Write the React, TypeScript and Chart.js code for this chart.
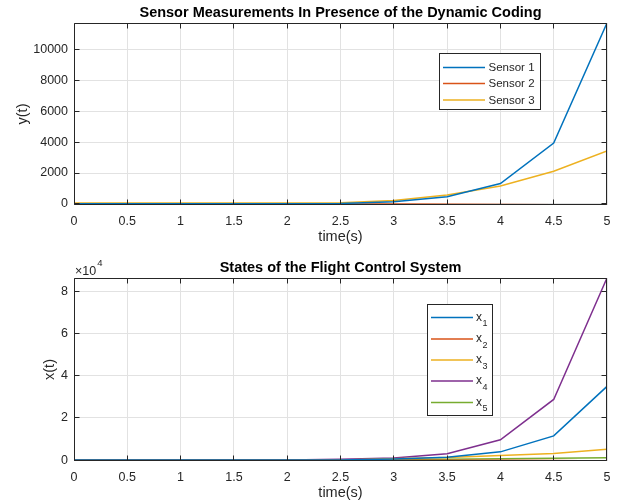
import React, { useEffect, useRef } from 'react';
import { Chart, registerables } from 'chart.js';

Chart.register(...registerables);

// ---------- data ----------
const time = [0, 0.5, 1, 1.5, 2, 2.5, 3, 3.5, 4, 4.5, 5];

const sensorNames = ['Sensor 1', 'Sensor 2', 'Sensor 3'];
const sensor1 = [2, 3, 4, 6, 10, 30, 130, 460, 1320, 3950, 11740];
const sensor2 = [0, 0, -1, -1, -2, -5, -12, -22, -38, -55, -75];
const sensor3 = [60, 55, 52, 52, 55, 75, 220, 580, 1160, 2120, 3430];

const stateNames = ['x_1', 'x_2', 'x_3', 'x_4', 'x_5'];
const x1 = [0, 2, 5, 10, 25, 80, 550, 1350, 3900, 11500, 35000];
const x2 = [0, -1, -2, -4, -8, -15, -40, -80, -150, -250, -450];
const x3 = [10, 12, 15, 20, 30, 80, 600, 1200, 2150, 3100, 5150];
const x4 = [0, 3, 8, 20, 60, 350, 1000, 3000, 9600, 28800, 86500];
const x5 = [5, 5, 6, 8, 12, 30, 200, 400, 600, 800, 1050];

const xTicks = [0, 0.5, 1, 1.5, 2, 2.5, 3, 3.5, 4, 4.5, 5];
const yTicksTop = [0, 2000, 4000, 6000, 8000, 10000];
const yTicksBottom = [0, 20000, 40000, 60000, 80000];
const bottomExponent = 4;

const topTitle = 'Sensor Measurements In Presence of the Dynamic Coding';
const bottomTitle = 'States of the Flight Control System';
const xLabel = 'time(s)';
const topYLabel = 'y(t)';
const bottomYLabel = 'x(t)';

const COLORS = ['#0072BD', '#D95319', '#EDB120', '#7E2F8E', '#77AC30'];
const FONT = '"Liberation Sans", Arial, Helvetica, sans-serif';
const AXIS_COLOR = '#262626';

type LegendSpec = {
  left: number; top: number; right: number; bottom: number;
  lineX0: number; lineX1: number; textX: number; rows: number[];
};

type DecorSpec = {
  title: string;
  yLabel: string;
  yLabelX: number;
  legend: LegendSpec;
  names: string[];
  exponent?: number;
};

function makeDecor(spec: DecorSpec) {
  return {
    id: 'decor',
    afterDatasetsDraw(chart: any) {
      const { ctx, chartArea: a, scales } = chart;
      ctx.save();
      const L = a.left + 0.5, R = a.right - 0.5, T = a.top + 0.5, B = a.bottom - 0.5;
      // box
      ctx.strokeStyle = AXIS_COLOR;
      ctx.lineWidth = 1;
      ctx.beginPath();
      ctx.rect(L, T, R - L, B - T);
      ctx.stroke();
      // inward ticks
      const tl = 5;
      ctx.beginPath();
      for (const t of scales.x.ticks) {
        let px = Math.floor(scales.x.getPixelForValue(t.value)) + 0.5;
        px = Math.min(Math.max(px, L), R);
        ctx.moveTo(px, B); ctx.lineTo(px, B - tl);
        ctx.moveTo(px, T); ctx.lineTo(px, T + tl);
      }
      for (const t of scales.y.ticks) {
        let py = Math.floor(scales.y.getPixelForValue(t.value)) + 0.5;
        py = Math.min(Math.max(py, T), B);
        ctx.moveTo(L, py); ctx.lineTo(L + tl, py);
        ctx.moveTo(R, py); ctx.lineTo(R - tl, py);
      }
      ctx.stroke();

      // title
      const cx = (a.left + a.right) / 2;
      ctx.fillStyle = '#000';
      ctx.font = `bold 14.5px ${FONT}`;
      ctx.textAlign = 'center';
      ctx.textBaseline = 'alphabetic';
      ctx.fillText(spec.title, cx, a.top - 6);

      // x label
      ctx.fillStyle = AXIS_COLOR;
      ctx.font = `14.5px ${FONT}`;
      ctx.fillText(xLabel, cx, a.bottom + 36);

      // y label
      ctx.save();
      ctx.translate(spec.yLabelX, (a.top + a.bottom) / 2);
      ctx.rotate(-Math.PI / 2);
      ctx.textBaseline = 'middle';
      ctx.fillText(spec.yLabel, 0, 0);
      ctx.restore();

      // exponent
      if (spec.exponent !== undefined) {
        ctx.textAlign = 'left';
        ctx.textBaseline = 'alphabetic';
        ctx.font = `12.5px ${FONT}`;
        const base = '\u00d710';
        ctx.fillText(base, a.left + 1, a.top - 3);
        const w = ctx.measureText(base).width;
        ctx.font = `9.5px ${FONT}`;
        ctx.fillText(String(spec.exponent), a.left + 1 + w + 1, a.top - 12);
      }

      // legend
      const lg = spec.legend;
      ctx.fillStyle = '#fff';
      ctx.fillRect(lg.left, lg.top, lg.right - lg.left, lg.bottom - lg.top);
      ctx.strokeStyle = AXIS_COLOR;
      ctx.lineWidth = 1;
      ctx.strokeRect(lg.left + 0.5, lg.top + 0.5, lg.right - lg.left - 1, lg.bottom - lg.top - 1);
      spec.names.forEach((name, i) => {
        const y = lg.rows[i];
        ctx.strokeStyle = COLORS[i];
        ctx.lineWidth = 1.5;
        ctx.beginPath();
        ctx.moveTo(lg.lineX0, y);
        ctx.lineTo(lg.lineX1, y);
        ctx.stroke();
        ctx.fillStyle = AXIS_COLOR;
        ctx.textAlign = 'left';
        const parts = name.split('_');
        if (parts.length === 2) {
          ctx.font = `12px ${FONT}`;
          ctx.textBaseline = 'alphabetic';
          ctx.fillText(parts[0], lg.textX, y + 3);
          const w = ctx.measureText(parts[0]).width;
          ctx.font = `9px ${FONT}`;
          ctx.fillText(parts[1], lg.textX + w + 0.5, y + 8.5);
        } else {
          ctx.font = `11.5px ${FONT}`;
          ctx.textBaseline = 'middle';
          ctx.fillText(name, lg.textX, y + 0.5);
        }
      });
      ctx.restore();
    },
  };
}

function makeConfig(
  series: number[][],
  names: string[],
  yTicks: number[],
  yFmt: (v: number) => string,
  canvasH: number,
  top: number,
  bottom: number,
  decor: any,
) {
  const all = series.flat();
  const yMin = Math.min(...all);
  const yMax = Math.max(...all);
  return {
    type: 'line' as const,
    data: {
      datasets: series.map((s, i) => ({
        label: names[i],
        data: time.map((t, j) => ({ x: t, y: s[j] })),
        borderColor: COLORS[i],
        backgroundColor: COLORS[i],
        borderWidth: 1.5,
        pointRadius: 0,
        tension: 0,
        fill: false,
      })),
    },
    options: {
      responsive: false,
      animation: false as const,
      events: [],
      layout: { padding: { left: 0, right: 16, top, bottom: 0 } },
      plugins: {
        legend: { display: false },
        tooltip: { enabled: false },
        title: { display: false },
      },
      scales: {
        x: {
          type: 'linear' as const,
          min: 0,
          max: 5,
          afterBuildTicks: (s: any) => { s.ticks = xTicks.map((v) => ({ value: v })); },
          afterFit: (s: any) => { s.height = canvasH - bottom; },
          grid: { color: '#e2e2e2', drawTicks: false, lineWidth: 1 },
          border: { display: false },
          ticks: {
            color: AXIS_COLOR,
            font: { family: FONT, size: 12.5 },
            padding: 9,
            maxRotation: 0,
            autoSkip: false,
            callback: (v: any) => String(v),
          },
        },
        y: {
          type: 'linear' as const,
          min: yMin,
          max: yMax,
          afterBuildTicks: (s: any) => { s.ticks = yTicks.map((v) => ({ value: v })); },
          afterFit: (s: any) => { s.width = 74; },
          grid: { color: '#e2e2e2', drawTicks: false, lineWidth: 1 },
          border: { display: false },
          ticks: {
            color: AXIS_COLOR,
            font: { family: FONT, size: 12.5 },
            padding: 6,
            autoSkip: false,
            callback: (v: any) => yFmt(Number(v)),
          },
        },
      },
    },
    plugins: [decor],
  };
}

export default function App() {
  const topRef = useRef<HTMLCanvasElement>(null);
  const botRef = useRef<HTMLCanvasElement>(null);

  useEffect(() => {
    const topDecor = makeDecor({
      title: topTitle,
      yLabel: topYLabel,
      yLabelX: 23,
      names: sensorNames,
      legend: {
        left: 439, top: 53, right: 541, bottom: 110,
        lineX0: 443, lineX1: 485, textX: 488.5, rows: [67.5, 83.5, 100],
      },
    });
    const botDecor = makeDecor({
      title: bottomTitle,
      yLabel: bottomYLabel,
      yLabelX: 50,
      names: stateNames,
      exponent: bottomExponent,
      legend: {
        left: 427, top: 54, right: 493, bottom: 166,
        lineX0: 431, lineX1: 473, textX: 476, rows: [67.5, 89, 110, 131, 152.5],
      },
    });
    const c1 = new Chart(
      topRef.current!,
      makeConfig([sensor1, sensor2, sensor3], sensorNames, yTicksTop, (v) => String(v), 250, 23, 205, topDecor) as any,
    );
    const c2 = new Chart(
      botRef.current!,
      makeConfig([x1, x2, x3, x4, x5], stateNames, yTicksBottom,
        (v) => String(v / Math.pow(10, bottomExponent)), 253, 28, 211, botDecor) as any,
    );
    return () => { c1.destroy(); c2.destroy(); };
  }, []);

  return (
    <div style={{ position: 'absolute', left: 0, top: 0, width: 623, height: 503, background: '#fff' }}>
      <canvas ref={topRef} width={623} height={250} style={{ position: 'absolute', left: 0, top: 0, display: 'block' }} />
      <canvas ref={botRef} width={623} height={253} style={{ position: 'absolute', left: 0, top: 250, display: 'block' }} />
    </div>
  );
}
